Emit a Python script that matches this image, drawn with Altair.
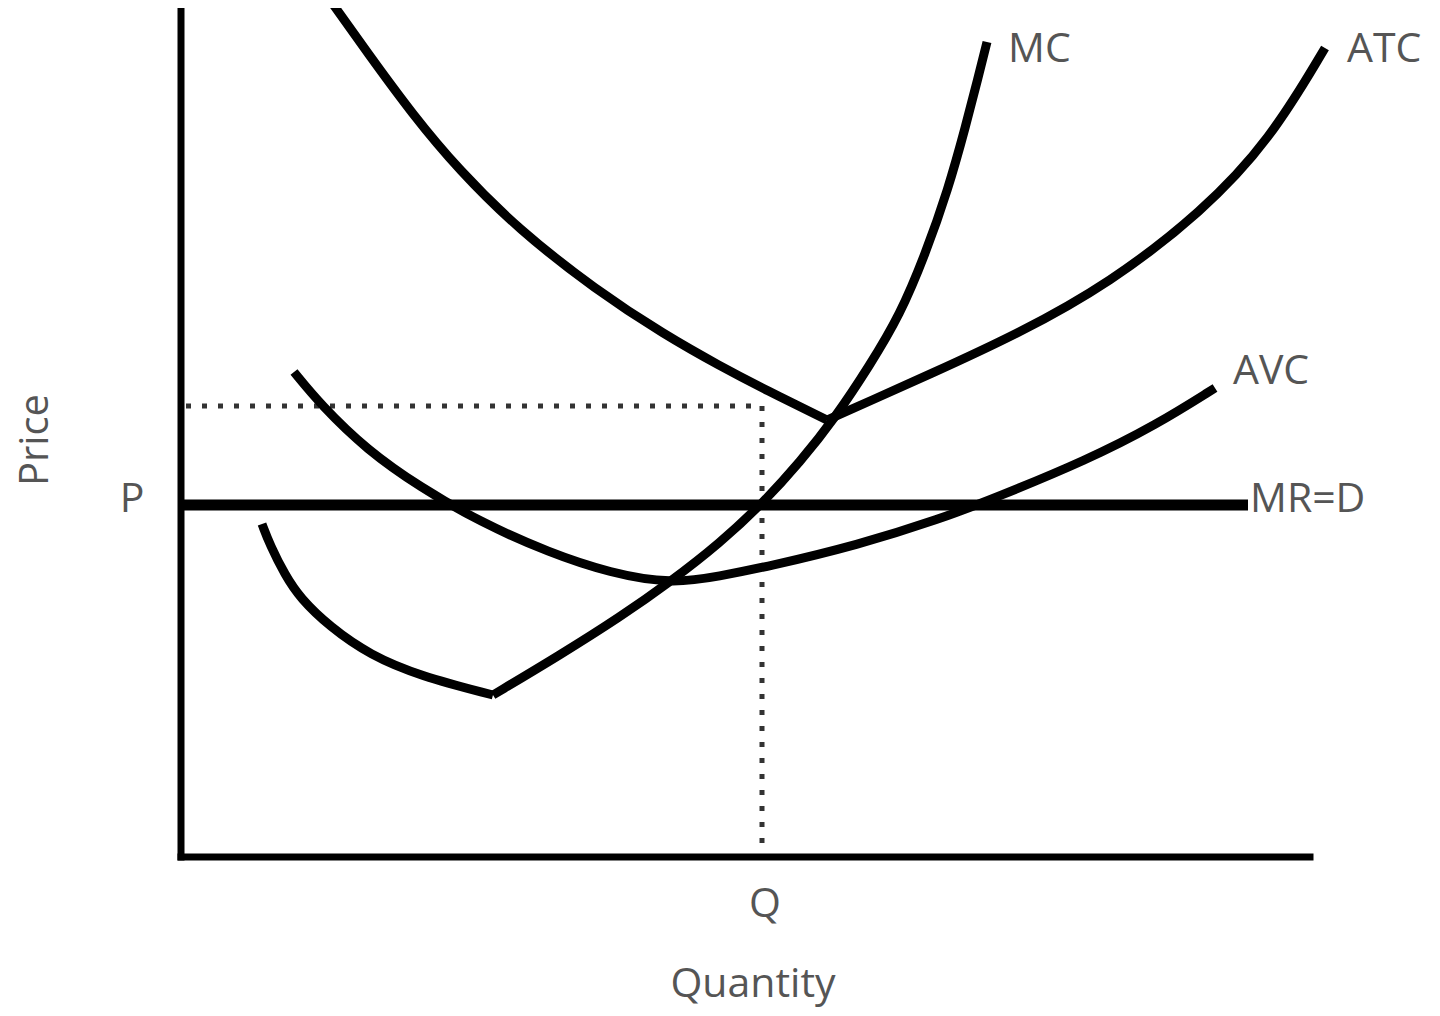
import altair as alt
import pandas as pd

# Quantity (q) and price (p) values
mc_left_q = [81, 89, 104, 119, 149, 189, 239, 312]
mc_left_p = [333, 312, 282, 259, 230, 202, 181, 162]
mc_right_q = [312, 379, 439, 489, 539, 582, 619, 654, 689, 719, 744, 767, 785, 797, 806]
mc_right_p = [162, 202, 240, 275, 314, 354, 395, 439, 492, 542, 602, 667, 732, 779, 815]
atc_left_q = [149, 186, 232, 278, 337, 415, 484, 539, 585, 646]
atc_left_p = [857, 805, 742, 687, 628, 567, 522, 491, 467, 437]
atc_right_q = [646, 689, 745, 837, 929, 1021, 1089, 1144]
atc_right_p = [437, 456, 481, 523, 574, 645, 717, 809]
avc_q = [113, 140, 186, 239, 299, 369, 429, 491, 539, 585, 677, 759, 814, 906, 975, 1034]
avc_p = [485, 452, 407, 370, 335, 304, 284, 273, 281, 290, 312, 338, 359, 397, 432, 469]

price_p = 352      # MR = D
quantity_q = 581   # Q
atc_at_q = 451     # ATC level at Q
mr_end_q = 1067
x_axis_end = 1129
y_axis_top = 860

labels = ["MC", "ATC", "AVC", "MR=D"]
label_q = [827, 1166, 1052, 1069]
label_p = [807, 807, 485, 357]

X = alt.Scale(domain=[-173, 1251])
Y = alt.Scale(domain=[-151, 849])
FONT = "Open Sans"
TXT = "#555555"

def curve_df(name, qs, ps):
    return pd.DataFrame({"curve": name, "q": qs, "p": ps, "i": range(len(qs))})

curves = pd.concat([
    curve_df("MC1", mc_left_q, mc_left_p),
    curve_df("MC2", mc_right_q, mc_right_p),
    curve_df("ATC1", atc_left_q, atc_left_p),
    curve_df("ATC2", atc_right_q, atc_right_p),
    curve_df("AVC", avc_q, avc_p),
])

curve_layer = alt.Chart(curves).mark_line(
    color="black", strokeWidth=9, interpolate="basis", strokeCap="butt", clip=False
).encode(
    x=alt.X("q:Q", scale=X, axis=None),
    y=alt.Y("p:Q", scale=Y, axis=None),
    detail="curve:N",
    order="i:Q",
)

axes_df = pd.DataFrame({
    "q": [0, 0], "q2": [0, x_axis_end], "p": [0, 0], "p2": [y_axis_top, 0]
})
axes_layer = alt.Chart(axes_df).mark_rule(color="black", strokeWidth=7, strokeCap="square").encode(
    x=alt.X("q:Q", scale=X, axis=None), x2="q2:Q",
    y=alt.Y("p:Q", scale=Y, axis=None), y2="p2:Q",
)

mr_df = pd.DataFrame({"q": [0], "q2": [mr_end_q], "p": [price_p], "p2": [price_p]})
mr_layer = alt.Chart(mr_df).mark_rule(color="black", strokeWidth=11).encode(
    x=alt.X("q:Q", scale=X, axis=None), x2="q2:Q",
    y=alt.Y("p:Q", scale=Y, axis=None), y2="p2:Q",
)

dot_df = pd.DataFrame({
    "q": [5, quantity_q], "q2": [quantity_q, quantity_q],
    "p": [atc_at_q, atc_at_q], "p2": [atc_at_q, 2],
})
dot_layer = alt.Chart(dot_df).mark_rule(color="#333333", strokeWidth=5, strokeDash=[5, 11]).encode(
    x=alt.X("q:Q", scale=X, axis=None), x2="q2:Q",
    y=alt.Y("p:Q", scale=Y, axis=None), y2="p2:Q",
)

lab_df = pd.DataFrame({"t": labels, "q": label_q, "p": label_p})
lab_layer = alt.Chart(lab_df).mark_text(
    align="left", baseline="middle", font=FONT, fontSize=41, color=TXT
).encode(
    x=alt.X("q:Q", scale=X, axis=None), y=alt.Y("p:Q", scale=Y, axis=None), text="t:N"
)

tick_df = pd.DataFrame({"t": ["P", "Q", "Quantity"], "q": [-49, 584, 572], "p": [357, -48, -128]})
tick_layer = alt.Chart(tick_df).mark_text(
    align="center", baseline="middle", font=FONT, fontSize=41, color=TXT
).encode(
    x=alt.X("q:Q", scale=X, axis=None), y=alt.Y("p:Q", scale=Y, axis=None), text="t:N"
)

price_df = pd.DataFrame({"t": ["Price"], "q": [-145], "p": [417]})
price_layer = alt.Chart(price_df).mark_text(
    align="center", baseline="middle", font=FONT, fontSize=40, color=TXT, angle=270
).encode(
    x=alt.X("q:Q", scale=X, axis=None), y=alt.Y("p:Q", scale=Y, axis=None), text="t:N"
)

chart = alt.layer(
    dot_layer, axes_layer, mr_layer, curve_layer, lab_layer, tick_layer, price_layer
).properties(
    width=1424, height=1000, padding=0, autosize=alt.AutoSizeParams(type="none"),
    background="white",
).configure_view(stroke=None)

chart.save("out.html", embed_options={"renderer": "svg", "actions": False})
